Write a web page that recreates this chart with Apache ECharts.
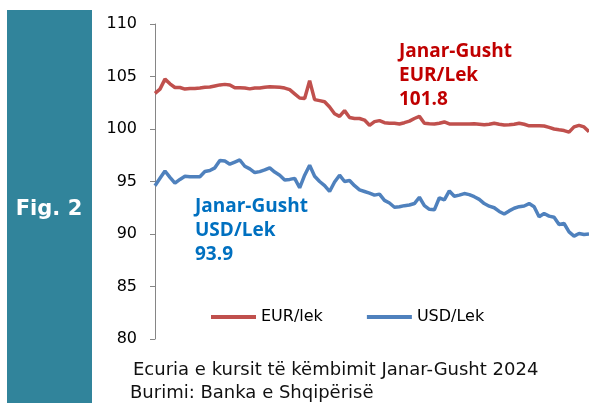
<!DOCTYPE html>
<html>
<head>
<meta charset="utf-8">
<script src="https://cdn.jsdelivr.net/npm/echarts@6/dist/echarts.min.js"></script>
<style>
  html, body { margin: 0; padding: 0; background: #fff; }
  #chart { width: 589px; height: 403px; }
</style>
</head>
<body>
<div id="chart"></div>
<script>
// kursi ditor EUR/Lek, janar - gusht 2024 (lexuar nga grafiku)
const eurLek = [
  103.4, 103.8, 104.75, 104.3, 103.95, 103.95, 103.8, 103.85, 103.85, 103.9,
  103.97, 104.0, 104.1, 104.2, 104.25, 104.2, 103.93, 103.93, 103.9, 103.82,
  103.9, 103.9, 103.98, 104.03, 104.0, 103.97, 103.9, 103.75, 103.35, 102.95,
  102.9, 104.6, 102.8, 102.7, 102.6, 102.1, 101.45, 101.2, 101.75, 101.1,
  101.0, 101.0, 100.85, 100.35, 100.7, 100.8, 100.6, 100.55, 100.55, 100.48,
  100.6, 100.75, 101.0, 101.2, 100.55, 100.5, 100.48, 100.55, 100.67, 100.48,
  100.48, 100.48, 100.48, 100.48, 100.5, 100.45, 100.4, 100.45, 100.55, 100.45,
  100.38, 100.4, 100.45, 100.55, 100.45, 100.3, 100.3, 100.3, 100.28, 100.15,
  100.0, 99.92, 99.85, 99.7, 100.2, 100.35, 100.2, 99.75
];
// kursi ditor USD/Lek
const usdLek = [
  94.6, 95.3, 96.0, 95.4, 94.85, 95.2, 95.5, 95.45, 95.45, 95.46,
  95.95, 96.05, 96.3, 97.0, 96.95, 96.65, 96.85, 97.05, 96.45, 96.2,
  95.85, 95.94, 96.1, 96.3, 95.9, 95.6, 95.15, 95.2, 95.3, 94.4,
  95.6, 96.55, 95.5, 95.0, 94.6, 94.05, 94.95, 95.6, 95.0, 95.1,
  94.6, 94.2, 94.05, 93.9, 93.7, 93.8, 93.2, 92.95, 92.55, 92.6,
  92.7, 92.76, 92.9, 93.5, 92.7, 92.35, 92.3, 93.45, 93.25, 94.1,
  93.6, 93.7, 93.85, 93.75, 93.55, 93.3, 92.9, 92.65, 92.5, 92.15,
  91.9, 92.2, 92.45, 92.6, 92.67, 92.9, 92.6, 91.65, 91.95, 91.7,
  91.6, 90.9, 91.0, 90.2, 89.8, 90.05, 89.95, 90.0
];
const days = eurLek.map((v, i) => String(i + 1));
const yTicks = [80, 85, 90, 95, 100, 105, 110];

const myChart = echarts.init(document.getElementById('chart'), null, { renderer: 'canvas' });
myChart.setOption({
  backgroundColor: '#fff',
  animation: false,
  grid: { left: 155, right: 0, top: 24, bottom: 64 },
  xAxis: {
    type: 'category',
    data: days,
    boundaryGap: false,
    show: false,
  },
  yAxis: {
    type: 'value',
    min: yTicks[0],
    max: yTicks[yTicks.length - 1],
    interval: 5,
    axisLine: { show: true, lineStyle: { color: '#868686', width: 1 } },
    axisTick: { show: true, length: 5, lineStyle: { color: '#868686' } },
    splitLine: { show: false },
    axisLabel: {
      margin: 18,
      color: '#000',
      fontSize: 16,
      fontFamily: 'DejaVu Sans',
    },
  },
  legend: {
    left: 206,
    top: 304,
    icon: 'rect',
    itemWidth: 45,
    itemHeight: 4,
    itemGap: 44,
    textStyle: { fontFamily: 'DejaVu Sans', fontSize: 16, color: '#000' },
    data: ['EUR/lek', 'USD/Lek'],
  },
  series: [
    {
      name: 'EUR/lek',
      type: 'line',
      data: eurLek,
      showSymbol: false,
      lineStyle: { color: '#C0504D', width: 3.5 },
      itemStyle: { color: '#C0504D' },
    },
    {
      name: 'USD/Lek',
      type: 'line',
      data: usdLek,
      showSymbol: false,
      lineStyle: { color: '#4F81BD', width: 3.5 },
      itemStyle: { color: '#4F81BD' },
    },
  ],
  graphic: [
    // shiriti anesor
    { type: 'rect', left: 7, top: 10, shape: { width: 85, height: 393 }, style: { fill: '#31849B' }, z: 0 },
    {
      type: 'text', z: 5, style: {
        text: 'Fig. 2', x: 49, y: 210, align: 'center', verticalAlign: 'middle',
        fill: '#fff', font: 'bold 21px "DejaVu Sans"',
      },
    },
    {
      type: 'text', style: {
        text: 'Janar-Gusht\nEUR/Lek\n101.8', x: 399, y: 40, lineHeight: 24,
        fill: '#C00000', font: 'bold 19px "Open Sans"',
      },
    },
    {
      type: 'text', style: {
        text: 'Janar-Gusht\nUSD/Lek\n93.9', x: 195, y: 195, lineHeight: 24,
        fill: '#0070C0', font: 'bold 19px "Open Sans"',
      },
    },
    {
      type: 'text', style: {
        text: 'Ecuria e kursit të këmbimit Janar-Gusht 2024', x: 133, y: 370,
        verticalAlign: 'middle', fill: '#111', font: '18px "DejaVu Sans"',
      },
    },
    {
      type: 'text', style: {
        text: 'Burimi: Banka e Shqipërisë', x: 130, y: 393,
        verticalAlign: 'middle', fill: '#111', font: '18px "DejaVu Sans"',
      },
    },
  ],
});
</script>
</body>
</html>
